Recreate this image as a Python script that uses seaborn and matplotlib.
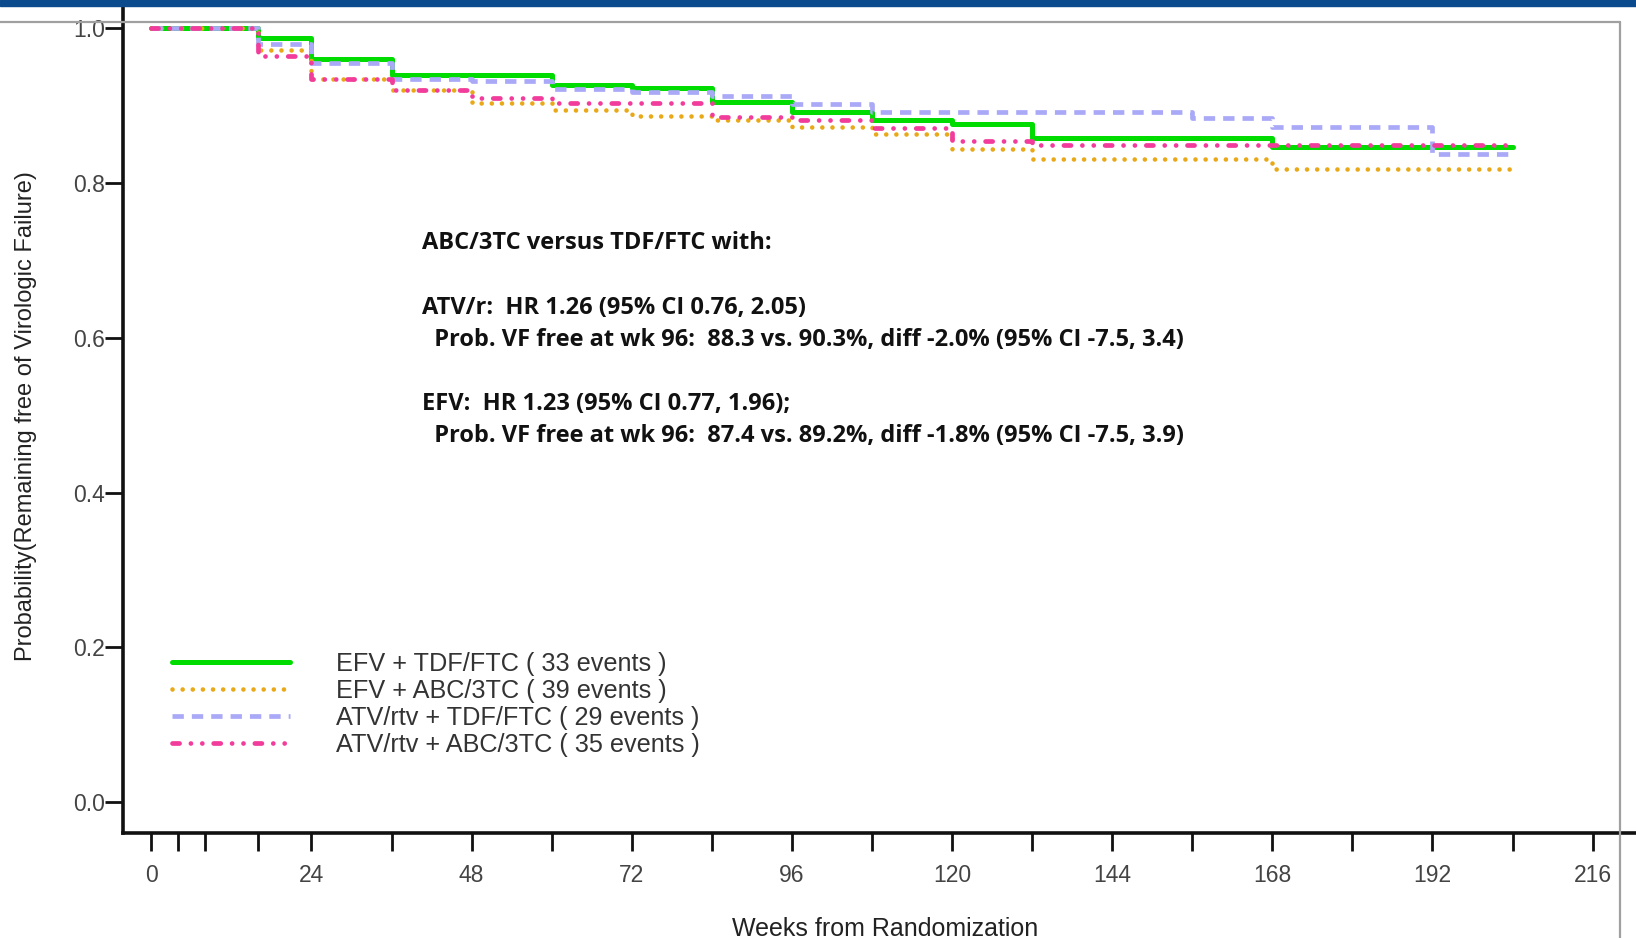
import matplotlib
matplotlib.use("Agg")
import matplotlib.pyplot as plt
from matplotlib.lines import Line2D
from matplotlib.patches import Rectangle
import seaborn as sns
import pandas as pd

# ---------------- data ----------------
weeks = [0, 16, 24, 36, 48, 60, 72, 84, 96, 108, 120, 132, 156, 168, 192, 204]

efv_tdf = [1.000, 0.988, 0.960, 0.940, 0.940, 0.927, 0.923, 0.905, 0.892, 0.881,
           0.876, 0.858, 0.858, 0.846, 0.846, 0.846]
efv_abc = [1.000, 0.972, 0.935, 0.920, 0.904, 0.894, 0.886, 0.881, 0.873, 0.863,
           0.844, 0.831, 0.831, 0.818, 0.818, 0.818]
atv_tdf = [1.000, 0.980, 0.955, 0.934, 0.932, 0.922, 0.918, 0.912, 0.902, 0.892,
           0.892, 0.892, 0.884, 0.872, 0.838, 0.838]
atv_abc = [1.000, 0.964, 0.935, 0.920, 0.910, 0.904, 0.903, 0.885, 0.881, 0.871,
           0.854, 0.849, 0.849, 0.849, 0.849, 0.849]

series_labels = ["EFV + TDF/FTC ( 33 events )",
                 "EFV + ABC/3TC ( 39 events )",
                 "ATV/rtv + TDF/FTC ( 29 events )",
                 "ATV/rtv + ABC/3TC ( 35 events )"]

x_major_ticks = [0, 24, 48, 72, 96, 120, 144, 168, 192, 216]
x_minor_ticks = [4, 8, 16, 36, 60, 84, 108, 132, 156, 180, 204]
y_ticks = [0.0, 0.2, 0.4, 0.6, 0.8, 1.0]

annotation_lines = [
    "ABC/3TC versus TDF/FTC with:",
    "ATV/r:  HR 1.26 (95% CI 0.76, 2.05)",
    "  Prob. VF free at wk 96:  88.3 vs. 90.3%, diff -2.0% (95% CI -7.5, 3.4)",
    "EFV:  HR 1.23 (95% CI 0.77, 1.96);",
    "  Prob. VF free at wk 96:  87.4 vs. 89.2%, diff -1.8% (95% CI -7.5, 3.9)",
]

# ---------------- styles ----------------
colors = ["#00DC00", "#E8A817", "#A9A9F7", "#F23C9C"]
lws = [3.6, 3.3, 3.4, 3.4]
styles = ["-", (0, (0.01, 2.2)), (0, (2.4, 1.7)),
          (0, (1.5, 2.4, 0.01, 2.4, 0.01, 2.4))]
caps = ["butt", "round", "butt", "round"]

sns.set_theme(style="ticks")
plt.rcParams["font.family"] = ["Liberation Sans", "DejaVu Sans"]

W, H = 1636, 938
fig = plt.figure(figsize=(W / 100, H / 100), dpi=100)
ax_left, ax_right, ax_top, ax_bottom = 123, 1636, 6, 833
ax = fig.add_axes([ax_left / W, 1 - ax_bottom / H,
                   (ax_right - ax_left) / W, (ax_bottom - ax_top) / H])

df = pd.DataFrame({"week": weeks, series_labels[0]: efv_tdf,
                   series_labels[1]: efv_abc, series_labels[2]: atv_tdf,
                   series_labels[3]: atv_abc})

for i, lab in enumerate(series_labels):
    sns.lineplot(data=df, x="week", y=lab, ax=ax, color=colors[i],
                 linewidth=lws[i], linestyle=styles[i], dash_capstyle=caps[i],
                 drawstyle="steps-post", label=lab, zorder=3 + i)

ax.set_xlim(-4.24, 222.5)
ax.set_ylim(-0.0398, 1.0287)

ax.set_xticks(x_major_ticks)
ax.set_xticks(x_minor_ticks, minor=True)
ax.set_yticks(y_ticks)
ax.set_yticklabels([f"{v:.1f}" for v in y_ticks])
ax.set_xticklabels([str(v) for v in x_major_ticks])

for s in ["top", "right"]:
    ax.spines[s].set_visible(False)
for s in ["left", "bottom"]:
    ax.spines[s].set_linewidth(2.6)
    ax.spines[s].set_color("#111111")

ax.tick_params(axis="both", which="both", direction="out", length=13,
               width=2.0, color="#111111")
ax.tick_params(axis="y", pad=0, labelsize=16.5, labelcolor="#444444")
ax.tick_params(axis="x", pad=9, labelsize=16.5, labelcolor="#444444")

ax.set_xlabel("Weeks from Randomization", fontsize=18, color="#222222")
ax.set_ylabel("Probability(Remaining free of Virologic Failure)", fontsize=17,
              color="#222222")
ax.xaxis.label.set_va("center")
ax.yaxis.label.set_va("center")
ax.xaxis.set_label_coords((885 - ax_left) / (ax_right - ax_left),
                          (ax_bottom - 929) / (ax_bottom - ax_top))
ax.yaxis.set_label_coords((26 - ax_left) / (ax_right - ax_left),
                          (ax_bottom - 416) / (ax_bottom - ax_top))

# legend
handles = ax.get_legend_handles_labels()
ax.legend(handles[0], handles[1], loc="upper left",
          bbox_to_anchor=(172 / W, 1 - 652 / H), bbox_transform=fig.transFigure,
          frameon=False, fontsize=18.2, handlelength=4.65, handletextpad=1.85,
          labelspacing=0.12, borderpad=0, borderaxespad=0, labelcolor="#333333")

# annotation text
ann_pos = [(421.5, 243.1), (421.5, 307.8), (421.5, 340.1), (421.5, 403.8), (421.5, 436.1)]
for (px, py), t in zip(ann_pos, annotation_lines):
    fig.text(px / W, 1 - py / H, t, fontsize=17, fontweight="bold",
             family=["Open Sans", "DejaVu Sans"], ha="left", va="center", color="#111111")

# slide frame decorations
fig.add_artist(Rectangle((0, 1 - 6 / H), 1, 6 / H, transform=fig.transFigure,
                         color="#0B4A8C", zorder=10))
fig.add_artist(Line2D([0, 1620 / W], [1 - 22 / H, 1 - 22 / H], transform=fig.transFigure,
                      color="#A0A0A0", lw=1.6, zorder=1))
fig.add_artist(Line2D([1620 / W, 1620 / W], [0, 1 - 22 / H], transform=fig.transFigure,
                      color="#A0A0A0", lw=1.6, zorder=1))

fig.savefig("out.png", dpi=100)
